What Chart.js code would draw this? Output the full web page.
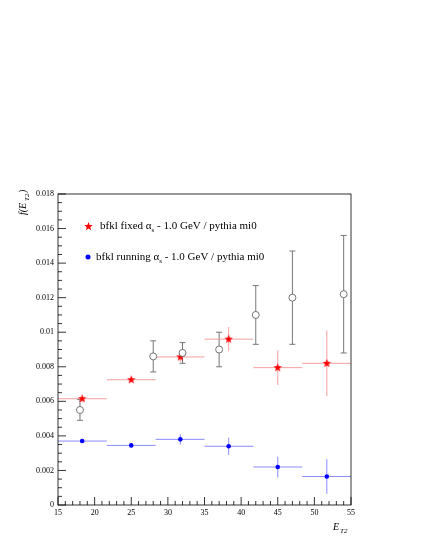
<!DOCTYPE html><html><head><script src="https://cdn.jsdelivr.net/npm/chart.js@4"></script>
<style>body{margin:0;background:#fff}</style></head><body><canvas id="c" width="421" height="545" style="width:421px;height:545px"></canvas>
<script>
const binEdges=[15,21.67,28.33,35,41.67,48.33,55];
const redX=[18.3,25,31.7,38.3,45,51.7];
const redY=[0.00615,0.00725,0.00857,0.0096,0.00795,0.0082];
const redErr=[0.0001,0.0001,0.0003,0.0007,0.001,0.0019];
const blueX=[18.3,25,31.7,38.3,45,51.7];
const blueY=[0.0037,0.00345,0.0038,0.0034,0.0022,0.00165];
const blueErr=[0.0001,0.0001,0.0003,0.0005,0.0006,0.001];
const openX=[18,28,32,37,42,47,54];
const openY=[0.0055,0.0086,0.0088,0.009,0.011,0.012,0.0122];
const openErr=[0.0006,0.0009,0.0006,0.001,0.0017,0.0027,0.0034];
const xTicks=[15,20,25,30,35,40,45,50,55];
const yTicks=[0,0.002,0.004,0.006,0.008,0.01,0.012,0.014,0.016,0.018];
const yLabels=['0','0.002','0.004','0.006','0.008','0.01','0.012','0.014','0.016','0.018'];
const pts=(xs,ys)=>xs.map((x,i)=>({x,y:ys[i]}));
const F='"Liberation Serif", serif';
function starImg(r){const cv=document.createElement('canvas');cv.width=cv.height=2*r+2;const g=cv.getContext('2d');
 g.fillStyle='#f00';g.beginPath();for(let k=0;k<10;k++){const a=-Math.PI/2+k*Math.PI/5;const rr=k%2?r*0.42:r;g.lineTo(r+1+rr*Math.cos(a),r+1+rr*Math.sin(a));}
 g.closePath();g.fill();return cv;}
const star=starImg(4.5);
const deco={id:'deco',
beforeDatasetsDraw(ch){const c=ch.ctx,xs=ch.scales.x,ys=ch.scales.y;
 function eb(xv,yv,er,col,bins){c.strokeStyle=col;c.lineWidth=1;
  xv.forEach((x,i)=>{const px=xs.getPixelForValue(x);c.beginPath();
   if(bins){c.moveTo(xs.getPixelForValue(binEdges[i]),ys.getPixelForValue(yv[i]));c.lineTo(xs.getPixelForValue(binEdges[i+1]),ys.getPixelForValue(yv[i]));}
   c.moveTo(px,ys.getPixelForValue(yv[i]-er[i]));c.lineTo(px,ys.getPixelForValue(yv[i]+er[i]));
   if(!bins){[-1,1].forEach(s=>{const py=ys.getPixelForValue(yv[i]+s*er[i]);c.moveTo(px-3,py);c.lineTo(px+3,py);});}
   c.stroke();});}
 eb(openX,openY,openErr,'#777',false);
 eb(redX,redY,redErr,'#f4a0a0',true);
 eb(blueX,blueY,blueErr,'#8a8aff',true);},
afterDraw(ch){const c=ch.ctx,a=ch.chartArea,xs=ch.scales.x,ys=ch.scales.y;
 c.save();c.strokeStyle='#000';c.lineWidth=0.8;c.strokeRect(a.left,a.top,a.right-a.left,a.bottom-a.top);
 c.beginPath();
 for(let v=15;v<=55;v+=1){const p=xs.getPixelForValue(v);const L=v%5==0?8:4;c.moveTo(p,a.bottom);c.lineTo(p,a.bottom-L);}
 for(let k=0;k<=36;k++){const v=k*0.0005;const p=ys.getPixelForValue(v);const L=k%4==0?8:4;c.moveTo(a.left,p);c.lineTo(a.left+L,p);}
 c.stroke();
 c.fillStyle='#000';c.font='8px '+F;c.textAlign='center';c.textBaseline='top';
 xTicks.forEach(v=>c.fillText(String(v),xs.getPixelForValue(v),a.bottom+4));
 c.textAlign='right';c.textBaseline='middle';
 yTicks.forEach((v,i)=>c.fillText(yLabels[i],a.left-4,ys.getPixelForValue(v)));
 c.font='italic 10px '+F;c.textAlign='left';c.textBaseline='alphabetic';
 c.fillText('E',333,530);c.font='italic 7px '+F;c.fillText('T2',340,533);
 c.save();c.translate(26,215);c.rotate(-Math.PI/2);c.font='italic 10px '+F;c.fillText('f(E',0,0);
 c.font='italic 7px '+F;c.fillText('T2',14,3);c.font='italic 10px '+F;c.fillText(')',22,0);c.restore();
 function leg(y,txt1,col,isStar){
  if(isStar){c.drawImage(star,83,y-8);}else{c.fillStyle=col;c.beginPath();c.arc(88,y-3,2.5,0,7);c.fill();}
  c.fillStyle='#000';c.textAlign='left';c.font='11px '+F;const x0=isStar?100:96;
  c.fillText(txt1,x0,y);let w=c.measureText(txt1).width;c.fillText('α',x0+w,y);w+=c.measureText('α').width;
  c.font='7px '+F;c.fillText('s',x0+w,y+3);w+=c.measureText('s').width;c.font='11px '+F;
  c.fillText(' - 1.0 GeV / pythia mi0',x0+w,y);}
 leg(229,'bfkl fixed ','#f00',true);leg(260,'bfkl running ','#00f',false);
 c.restore();}};
new Chart(document.getElementById('c'),{type:'scatter',
data:{datasets:[
{data:pts(openX,openY),pointStyle:'circle',pointRadius:3.5,backgroundColor:'#fff',borderColor:'#555',borderWidth:0.8},
{data:pts(redX,redY),pointStyle:star,pointRadius:4.5,borderColor:'#f00',backgroundColor:'#f00'},
{data:pts(blueX,blueY),pointStyle:'circle',pointRadius:2.3,borderColor:'#00f',backgroundColor:'#00f',borderWidth:0}]},
options:{responsive:false,animation:false,events:[],layout:{padding:{left:0,top:194,right:70,bottom:0}},
plugins:{legend:{display:false},tooltip:{enabled:false}},
scales:{x:{type:'linear',min:15,max:55,grid:{display:false},border:{display:false},ticks:{display:false},afterFit(s){s.height=40;}},
y:{min:0,max:0.018,grid:{display:false},border:{display:false},ticks:{display:false},afterFit(s){s.width=58;}}}},
plugins:[deco]});
</script></body></html>
